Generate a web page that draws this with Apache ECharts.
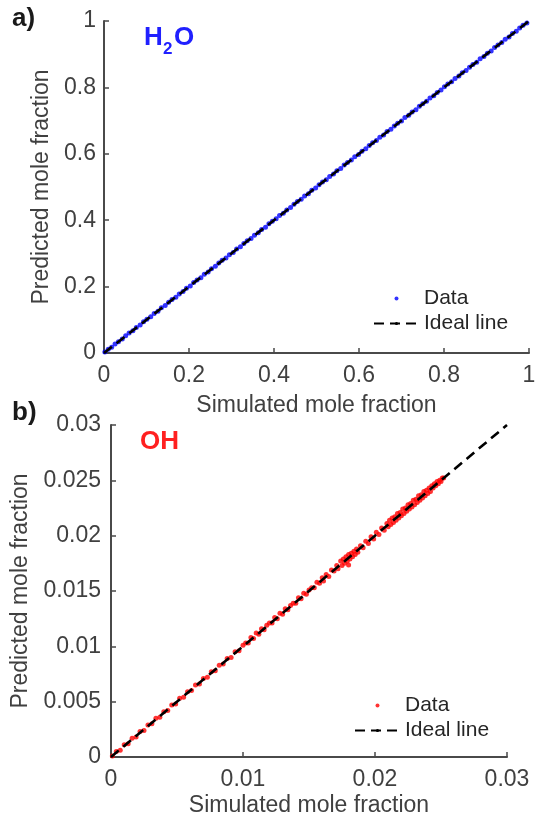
<!DOCTYPE html>
<html>
<head>
<meta charset="utf-8">
<script src="https://cdn.jsdelivr.net/npm/echarts@6/dist/echarts.min.js"></script>
<style>
html,body{margin:0;padding:0;background:#fff;}
#c{width:542px;height:819px;}
</style>
</head>
<body>
<div id="c"></div>
<script>
// ---- data ----
var h2oTicks = [0, 0.2, 0.4, 0.6, 0.8, 1];
var ohTicks = [0, 0.005, 0.01, 0.015, 0.02, 0.025, 0.03];
var h2oIdeal = [[0, 0], [1, 1]];
var ohIdeal = [[0, 0], [0.03, 0.03]];
var h2oData = [
[0.002,0.003],[0.010,0.011],[0.018,0.017],[0.026,0.027],[0.034,0.034],[0.043,0.042],[0.051,0.052],[0.059,0.060],
[0.068,0.067],[0.076,0.077],[0.085,0.084],[0.093,0.094],[0.101,0.102],[0.110,0.109],[0.118,0.119],[0.127,0.126],
[0.135,0.136],[0.144,0.143],[0.152,0.153],[0.160,0.161],[0.169,0.168],[0.177,0.178],[0.186,0.185],[0.194,0.195],
[0.203,0.202],[0.211,0.212],[0.219,0.220],[0.228,0.227],[0.236,0.237],[0.245,0.244],[0.253,0.254],[0.262,0.261],
[0.270,0.271],[0.278,0.279],[0.287,0.286],[0.295,0.296],[0.304,0.303],[0.312,0.313],[0.321,0.320],[0.329,0.330],
[0.337,0.338],[0.346,0.345],[0.354,0.355],[0.363,0.362],[0.371,0.372],[0.380,0.379],[0.388,0.389],[0.396,0.397],
[0.405,0.404],[0.413,0.414],[0.422,0.421],[0.430,0.431],[0.439,0.438],[0.447,0.448],[0.455,0.456],[0.464,0.463],
[0.472,0.473],[0.481,0.480],[0.489,0.490],[0.498,0.497],[0.506,0.507],[0.514,0.515],[0.523,0.522],[0.531,0.532],
[0.540,0.539],[0.548,0.549],[0.557,0.556],[0.565,0.566],[0.573,0.574],[0.582,0.581],[0.590,0.591],[0.599,0.598],
[0.607,0.608],[0.616,0.615],[0.624,0.625],[0.632,0.633],[0.641,0.640],[0.649,0.650],[0.658,0.657],[0.666,0.667],
[0.675,0.674],[0.683,0.684],[0.691,0.692],[0.700,0.699],[0.708,0.709],[0.717,0.716],[0.725,0.726],[0.734,0.733],
[0.742,0.743],[0.750,0.751],[0.759,0.758],[0.767,0.768],[0.776,0.775],[0.784,0.785],[0.793,0.792],[0.801,0.802],
[0.809,0.810],[0.818,0.817],[0.826,0.827],[0.835,0.834],[0.843,0.844],[0.852,0.851],[0.860,0.861],[0.868,0.869],
[0.877,0.876],[0.885,0.886],[0.894,0.893],[0.902,0.903],[0.911,0.910],[0.919,0.920],[0.927,0.928],[0.936,0.935],
[0.944,0.945],[0.953,0.952],[0.961,0.962],[0.970,0.969],[0.978,0.979],[0.986,0.987],[0.995,0.994]
];
var ohData = [
[0.0001,0.0001],[0.0004,0.0005],[0.0007,0.0006],[0.0010,0.0011],[0.0013,0.0012],[0.0016,0.0017],[0.0019,0.0018],
[0.0022,0.0023],[0.0025,0.0024],[0.0028,0.0029],[0.0031,0.0030],[0.0034,0.0035],[0.0037,0.0036],[0.0040,0.0041],
[0.0043,0.0042],[0.0046,0.0047],[0.0049,0.0048],[0.0052,0.0053],[0.0055,0.0054],[0.0058,0.0059],[0.0061,0.0060],
[0.0064,0.0065],[0.0067,0.0066],[0.0070,0.0071],[0.0073,0.0072],[0.0076,0.0077],[0.0079,0.0078],[0.0082,0.0083],
[0.0085,0.0084],[0.0088,0.0089],[0.0091,0.0090],[0.0094,0.0095],[0.0097,0.0096],[0.0100,0.0101],
[0.0102,0.0103],[0.0104,0.0103],[0.0106,0.0108],[0.0108,0.0107],[0.0110,0.0112],[0.0112,0.0111],[0.0114,0.0116],
[0.0116,0.0115],[0.0118,0.0119],[0.0120,0.0121],[0.0122,0.0121],[0.0124,0.0126],[0.0126,0.0125],[0.0128,0.0130],
[0.0130,0.0129],[0.0132,0.0134],[0.0134,0.0133],[0.0136,0.0137],[0.0138,0.0139],[0.0140,0.0139],[0.0142,0.0144],
[0.0144,0.0143],[0.0146,0.0148],[0.0148,0.0147],[0.0150,0.0151],[0.0152,0.0153],[0.0154,0.0153],[0.0156,0.0158],
[0.0158,0.0157],[0.0160,0.0162],
[0.0161,0.0159],[0.0163,0.0165],[0.0165,0.0163],[0.0167,0.0169],[0.0169,0.0168],[0.0171,0.0173],[0.0172,0.0170],
[0.0174,0.0177],[0.0175,0.0173],[0.0176,0.0179],[0.0177,0.0175],[0.0178,0.0181],[0.0179,0.0177],[0.0180,0.0183],
[0.0180,0.01735],[0.0181,0.0179],[0.0182,0.0184],[0.0183,0.0181],[0.0184,0.0186],[0.0185,0.0183],[0.0186,0.0188],
[0.0187,0.0185],[0.0189,0.0191],[0.0191,0.0189],[0.0193,0.0195],[0.0195,0.0193],[0.0197,0.0199],[0.0199,0.0197],
[0.0201,0.0203],[0.0203,0.0201],[0.0205,0.0207],[0.0207,0.0205],[0.0209,0.0211],[0.0210,0.0208],[0.0211,0.0214],
[0.0212,0.0210],[0.0213,0.0216],[0.0214,0.0212],[0.0215,0.0217],[0.0216,0.0214],[0.0217,0.0220],[0.0218,0.0216],
[0.0219,0.0221],[0.0220,0.0218],[0.0221,0.0224],[0.0222,0.0220],[0.0223,0.0225],[0.0224,0.0222],[0.0225,0.0228],
[0.0226,0.0224],[0.0227,0.0229],[0.0228,0.0226],[0.0229,0.0232],[0.0230,0.0228],[0.0231,0.0233],[0.0232,0.0230],
[0.0233,0.0236],[0.0234,0.0232],[0.0235,0.0237],[0.0236,0.0234],[0.0237,0.0240],[0.0238,0.0236],[0.0239,0.0241],
[0.0240,0.0238],[0.0241,0.0243],[0.0242,0.0240],[0.0243,0.0245],[0.0244,0.0243],[0.0245,0.0247],[0.0246,0.0245],
[0.0247,0.0249],[0.0248,0.0247],[0.0249,0.0250],[0.0250,0.0249],[0.0251,0.0252],[0.0252,0.0252]
];

// ---- chart ----
var FONT = '"Liberation Sans", Arial, sans-serif';
var AX = '#4a4a4a';
var TXT = '#404040';
function xAx(gi, max, interval, gap) {
  return {
    gridIndex: gi, type: 'value', min: 0, max: max, interval: interval,
    name: 'Simulated mole fraction', nameLocation: 'middle', nameGap: gap,
    nameTextStyle: {fontFamily: FONT, fontSize: 23, color: TXT},
    axisLine: {show: true, lineStyle: {color: AX, width: 2}},
    axisTick: {show: true, inside: true, length: 5, lineStyle: {color: AX, width: 1.5}},
    axisLabel: {fontFamily: FONT, fontSize: 23, color: TXT, margin: 11,
      formatter: function (v) { return String(+v.toFixed(4)); }},
    splitLine: {show: false}
  };
}
function yAx(gi, max, interval, gap, margin) {
  return {
    gridIndex: gi, type: 'value', min: 0, max: max, interval: interval,
    name: 'Predicted mole fraction', nameLocation: 'middle', nameGap: gap,
    nameTextStyle: {fontFamily: FONT, fontSize: 23, color: TXT},
    axisLine: {show: true, lineStyle: {color: AX, width: 2}},
    axisTick: {show: true, inside: true, length: 5, lineStyle: {color: AX, width: 1.5}},
    axisLabel: {fontFamily: FONT, fontSize: 23, color: TXT, margin: margin,
      formatter: function (v) { return String(+v.toFixed(4)); }},
    splitLine: {show: false}
  };
}
function legendAt(left, top, names) {
  return {
    orient: 'vertical', left: left, top: top, itemWidth: 45, itemHeight: 4, itemGap: 4,
    padding: 0, data: names,
    textStyle: {fontFamily: FONT, fontSize: 21, color: '#262626'},
    formatter: function (n) { return n.trim(); },
    selectedMode: false
  };
}
var chart = echarts.init(document.getElementById('c'), null, {renderer: 'canvas'});
chart.setOption({
  animation: false,
  backgroundColor: '#fff',
  grid: [
    {left: 104, top: 21, width: 425, height: 332},
    {left: 111, top: 425, width: 396, height: 332}
  ],
  xAxis: [xAx(0, 1, 0.2, 41), xAx(1, 0.03, 0.01, 37)],
  yAxis: [yAx(0, 1, 0.2, 45, 8), yAx(1, 0.03, 0.005, 70, 10)],
  legend: [
    legendAt(373, 288, ['Data', 'Ideal line']),
    legendAt(354, 695, ['Data ', 'Ideal line '])
  ],
  series: [
    {name: 'Data', type: 'scatter', xAxisIndex: 0, yAxisIndex: 0, data: h2oData,
      symbol: 'circle', symbolSize: 5, itemStyle: {color: '#0000ff'}, z: 2},
    {name: 'Ideal line', type: 'line', xAxisIndex: 0, yAxisIndex: 0, data: h2oIdeal,
      symbol: 'none', lineStyle: {color: '#000', width: 2.6, type: [10, 6]}, itemStyle: {color: '#000'}, z: 3},
    {name: 'Data ', type: 'scatter', xAxisIndex: 1, yAxisIndex: 1, data: ohData,
      symbol: 'circle', symbolSize: 5, itemStyle: {color: '#ff0000'}, z: 2},
    {name: 'Ideal line ', type: 'line', xAxisIndex: 1, yAxisIndex: 1, data: ohIdeal,
      symbol: 'none', lineStyle: {color: '#000', width: 2.6, type: [10, 6]}, itemStyle: {color: '#000'}, z: 3}
  ],
  graphic: [
    {type: 'text', left: 12, top: 6, style: {text: 'a)', font: 'bold 26px ' + FONT, fill: '#1a1a1a'}},
    {type: 'text', left: 12, top: 400, style: {text: 'b)', font: 'bold 26px ' + FONT, fill: '#1a1a1a'}},
    {type: 'text', x: 144, y: 38, style: {text: 'H', font: 'bold 26px ' + FONT, fill: '#2020ff', verticalAlign: 'middle'}},
    {type: 'text', x: 163, y: 49, style: {text: '2', font: 'bold 17px ' + FONT, fill: '#2020ff', verticalAlign: 'middle'}},
    {type: 'text', x: 174, y: 38, style: {text: 'O', font: 'bold 26px ' + FONT, fill: '#2020ff', verticalAlign: 'middle'}},
    {type: 'text', x: 140, y: 442, style: {text: 'OH', font: 'bold 26px ' + FONT, fill: '#ff2020', verticalAlign: 'middle'}}
  ]
});
</script>
</body>
</html>
